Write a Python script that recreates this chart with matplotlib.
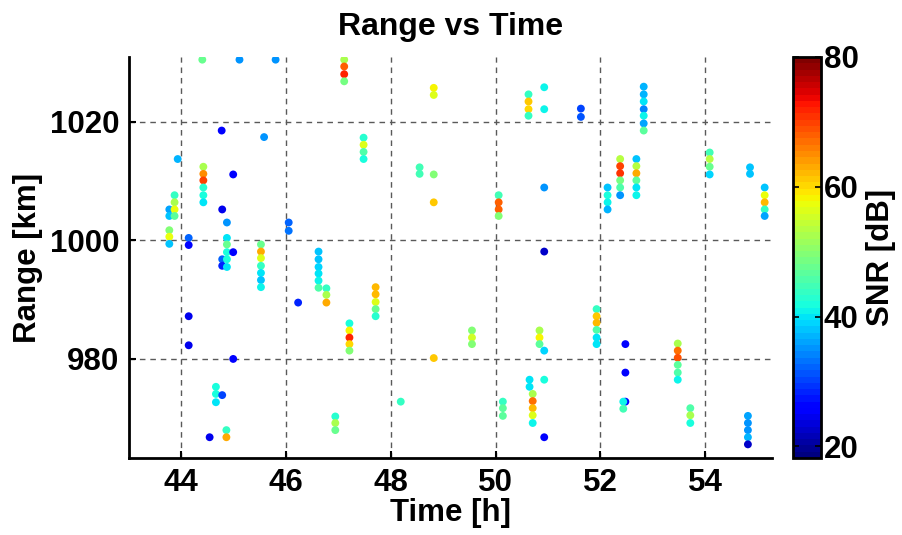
import matplotlib
matplotlib.use("Agg")
import matplotlib.pyplot as plt

plt.rcParams['font.family'] = ['Liberation Sans', 'DejaVu Sans']
plt.rcParams['font.weight'] = 'bold'
plt.rcParams['font.size'] = 22.5

# detections: time [h], range [km], SNR [dB]
time_h = [43.77, 43.77, 43.77, 43.77, 43.77,
          43.87, 43.87, 43.87, 43.87,
          43.93,
          44.14, 44.14, 44.14, 44.14,
          44.40,
          44.42, 44.42, 44.42, 44.42, 44.42, 44.42,
          44.54,
          44.66, 44.66, 44.66,
          44.77, 44.78, 44.78, 44.78, 44.78,
          44.87, 44.87, 44.87, 44.87, 44.87, 44.87, 44.86, 44.86,
          44.99, 44.99, 44.99,
          45.11,
          45.52, 45.52, 45.52, 45.52, 45.52, 45.52, 45.52,
          45.58,
          45.80,
          46.05, 46.05,
          46.23,
          46.62, 46.62, 46.62, 46.62, 46.62, 46.62,
          46.77, 46.77, 46.77,
          46.94, 46.94, 46.94,
          47.11, 47.11, 47.11, 47.11,
          47.21, 47.21, 47.21, 47.21, 47.21,
          47.48, 47.48, 47.48, 47.48,
          47.71, 47.71, 47.71, 47.71, 47.71,
          48.19,
          48.55, 48.55,
          48.82, 48.82, 48.82, 48.82, 48.82,
          49.55, 49.55, 49.55,
          50.06, 50.06, 50.06, 50.06,
          50.14, 50.14, 50.14,
          50.63, 50.63, 50.63, 50.63,
          50.65, 50.65,
          50.71, 50.71, 50.71, 50.71, 50.71,
          50.84, 50.84, 50.84,
          50.93, 50.93, 50.93, 50.93, 50.93, 50.93, 50.93,
          51.63, 51.63,
          51.93, 51.93, 51.93, 51.93, 51.93, 51.93,
          52.14, 52.14, 52.14, 52.14,
          52.38, 52.38, 52.38, 52.38, 52.38, 52.38,
          52.48, 52.48, 52.48,
          52.44, 52.44,
          52.69, 52.69, 52.69, 52.69, 52.69, 52.69,
          52.83, 52.83, 52.83, 52.83, 52.83, 52.83, 52.83,
          53.48, 53.48, 53.48, 53.48, 53.48, 53.48,
          53.72, 53.72, 53.72,
          54.09, 54.09, 54.09, 54.09,
          54.82, 54.82, 54.82, 54.82, 54.82,
          54.86, 54.86,
          55.14, 55.14, 55.14, 55.14, 55.14]

range_km = [1005.2, 1004.1, 1001.7, 1000.6, 999.4,
            1007.6, 1006.4, 1005.2, 1004.1,
            1013.7,
            1000.4, 999.2, 987.2, 982.3,
            1030.45,
            1012.4, 1011.2, 1010.1, 1008.9, 1007.6, 1006.4,
            966.8,
            975.3, 974.1, 972.7,
            1018.5, 1005.2, 996.8, 995.7, 973.9,
            1003.0, 1000.4, 999.3, 998.0, 996.8, 995.5, 968.0, 966.8,
            1011.1, 998.0, 980.0,
            1030.45,
            999.3, 998.1, 997.0, 995.7, 994.5, 993.3, 992.1,
            1017.4,
            1030.45,
            1003.0, 1001.6,
            989.5,
            998.1, 996.8, 995.5, 994.4, 993.2, 992.0,
            991.9, 990.8, 989.5,
            970.3, 969.2, 968.0,
            1030.45, 1029.3, 1028.0, 1026.8,
            986.0, 984.8, 983.6, 982.5, 981.4,
            1017.3, 1016.1, 1014.9, 1013.7,
            992.1, 990.9, 989.6, 988.4, 987.2,
            972.8,
            1012.3, 1011.2,
            1025.7, 1024.5, 1011.1, 1006.4, 980.15,
            984.8, 983.6, 982.5,
            1007.6, 1006.4, 1005.2, 1004.1,
            972.8, 971.7, 970.4,
            1024.6, 1023.4, 1022.1, 1021.0,
            976.5, 975.3,
            974.1, 972.9, 971.7, 970.5, 969.2,
            984.8, 983.6, 982.5,
            1025.8, 1022.1, 1008.9, 998.1, 981.4, 976.5, 966.8,
            1022.2, 1020.8,
            988.4, 987.2, 986.1, 984.9, 983.6, 982.5,
            1008.9, 1007.6, 1006.4, 1005.2,
            1013.7, 1012.5, 1011.3, 1010.1, 1008.9, 1007.6,
            982.5, 977.7, 972.8,
            972.8, 971.6,
            1013.7, 1012.5, 1011.3, 1010.1, 1008.9, 1007.6,
            1025.9, 1024.6, 1023.4, 1022.1, 1021.0, 1019.7, 1018.5,
            982.6, 981.4, 980.2, 979.0, 977.7, 976.5,
            971.7, 970.5, 969.2,
            1014.8, 1013.7, 1012.4, 1011.1,
            970.4, 969.2, 968.0, 966.8, 965.6,
            1012.3, 1011.2,
            1008.9, 1007.6, 1006.4, 1005.2, 1004.1]

snr_db = [36, 38, 50, 57, 38,
          44, 52, 57, 47,
          37,
          32, 26, 24, 24,
          48,
          52, 65, 70, 43, 42, 40,
          24,
          42, 42, 40,
          25, 24, 32, 28, 30,
          35, 40, 48, 42, 42, 40, 44, 63,
          25, 25, 25,
          35,
          48, 63, 56, 44, 40, 38, 41,
          35,
          35,
          32, 33,
          28,
          38, 38, 39, 40, 41, 46,
          44, 52, 63,
          43, 52, 48,
          52, 68, 72, 49,
          42, 58, 72, 60, 50,
          43, 56, 46, 42,
          62, 62, 56, 48, 43,
          44,
          45, 45,
          58, 56, 50, 61, 61,
          50, 55, 50,
          45, 68, 68, 50,
          44, 47, 47,
          44, 61, 60, 44,
          40, 40,
          52, 67, 62, 56, 41,
          52, 58, 47,
          41, 41, 35, 23, 39, 42, 25,
          30, 31,
          44, 61, 62, 46, 40, 40,
          38, 42, 41, 37,
          53, 70, 71, 49, 46, 35,
          25, 25, 25,
          41, 45,
          38, 53, 63, 47, 40, 41,
          37, 37, 40, 34, 41, 36, 47,
          52, 67, 69, 47, 46, 41,
          46, 52, 42,
          45, 53, 48, 39,
          36, 35, 35, 37, 23,
          38, 38,
          38, 57, 62, 44, 36]

x_ticks = [44, 46, 48, 50, 52, 54]
y_ticks = [980, 1000, 1020]
cb_ticks = [20, 40, 60, 80]

fig = plt.figure(figsize=(9.02, 5.35), dpi=100)
ax = fig.add_axes([129 / 902, 77 / 535, 643 / 902, 401 / 535])
cax = fig.add_axes([793 / 902, 77 / 535, 28 / 902, 401 / 535])

sc = ax.scatter(time_h, range_km, c=snr_db, cmap=plt.get_cmap('jet', 64),
                vmin=18.2, vmax=80, s=32, edgecolors='none', zorder=3)

ax.set_xlim(43, 55.28)
ax.set_ylim(963.3, 1030.9)
ax.set_xticks(x_ticks)
ax.set_yticks(y_ticks)
ax.grid(True, linestyle=(0, (4, 3.5)), color='0.35', linewidth=1)
ax.set_axisbelow(True)
for side in ['top', 'right']:
    ax.spines[side].set_visible(False)
for side in ['left', 'bottom']:
    ax.spines[side].set_linewidth(2)
ax.tick_params(direction='in', length=5, width=1.5, pad=7)

ax.set_title('Range vs Time', fontsize=23, fontweight='bold', pad=16)
ax.set_xlabel('Time [h]', fontweight='bold', labelpad=0)
ax.set_ylabel('Range [km]', fontweight='bold', labelpad=5)

cb = fig.colorbar(sc, cax=cax, ticks=cb_ticks)
cb.outline.set_linewidth(2)
cax.tick_params(direction='in', left=True, right=True, length=4, width=1.2, pad=2)
cb.set_label('SNR [dB]', fontweight='bold', labelpad=5)

fig.savefig('out.png', dpi=100)
